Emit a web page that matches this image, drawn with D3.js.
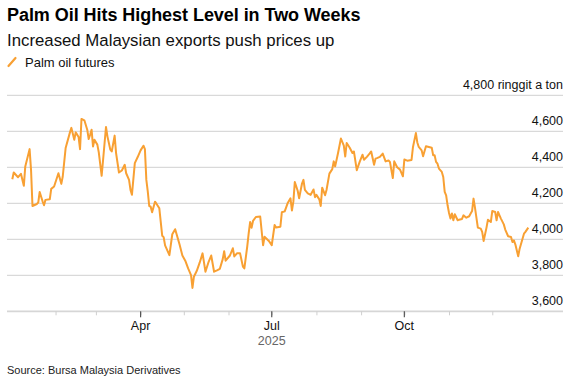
<!DOCTYPE html>
<html><head><meta charset="utf-8">
<script src="https://cdn.jsdelivr.net/npm/d3@7"></script>
<style>
html,body{margin:0;padding:0;background:#fff;}
svg{display:block;font-family:"Liberation Sans",Arial,sans-serif;}
</style></head>
<body><svg id="c" width="571" height="383"></svg>
<script>
const title = "Palm Oil Hits Highest Level in Two Weeks";
const subtitle = "Increased Malaysian exports push prices up";
const seriesName = "Palm oil futures";
const unitLabel = "ringgit a ton";
const source = "Source: Bursa Malaysia Derivatives";
const yearLabel = "2025";

const dates = ["2025-01-02","2025-01-03","2025-01-06","2025-01-08","2025-01-10","2025-01-11","2025-01-14","2025-01-15","2025-01-16","2025-01-19","2025-01-20","2025-01-21","2025-01-23","2025-01-24","2025-01-25","2025-01-28","2025-01-29","2025-01-31",
"2025-02-03","2025-02-05","2025-02-06","2025-02-08","2025-02-11","2025-02-12","2025-02-14","2025-02-15","2025-02-17","2025-02-18","2025-02-19","2025-02-21","2025-02-23","2025-02-24","2025-02-25","2025-02-26","2025-02-27","2025-02-28",
"2025-03-02","2025-03-03","2025-03-05","2025-03-06","2025-03-08","2025-03-09","2025-03-11","2025-03-12","2025-03-14","2025-03-15","2025-03-17","2025-03-19","2025-03-21","2025-03-22","2025-03-24","2025-03-25","2025-03-26","2025-03-28","2025-03-30",
"2025-04-01","2025-04-03","2025-04-04","2025-04-05","2025-04-06","2025-04-07","2025-04-08","2025-04-09","2025-04-11","2025-04-12","2025-04-14","2025-04-16","2025-04-17","2025-04-18","2025-04-21","2025-04-23","2025-04-25","2025-04-26","2025-04-28","2025-04-30",
"2025-05-02","2025-05-04","2025-05-06","2025-05-07","2025-05-08","2025-05-10","2025-05-12","2025-05-14","2025-05-16","2025-05-18","2025-05-20","2025-05-22","2025-05-24","2025-05-26","2025-05-28","2025-05-29","2025-05-30",
"2025-06-02","2025-06-04","2025-06-05","2025-06-07","2025-06-09","2025-06-11","2025-06-12","2025-06-14","2025-06-15","2025-06-16","2025-06-17","2025-06-18","2025-06-20","2025-06-23","2025-06-25","2025-06-26","2025-06-29",
"2025-07-01","2025-07-03","2025-07-04","2025-07-07","2025-07-08","2025-07-10","2025-07-12","2025-07-14","2025-07-15","2025-07-16","2025-07-17","2025-07-19","2025-07-20","2025-07-22","2025-07-23","2025-07-24","2025-07-26","2025-07-28","2025-07-30","2025-07-31",
"2025-08-01","2025-08-03","2025-08-04","2025-08-05","2025-08-07","2025-08-08","2025-08-10","2025-08-12","2025-08-13","2025-08-14","2025-08-16","2025-08-18","2025-08-20","2025-08-21","2025-08-22","2025-08-24","2025-08-26","2025-08-27","2025-08-29","2025-08-31",
"2025-09-02","2025-09-03","2025-09-05","2025-09-07","2025-09-08","2025-09-10","2025-09-11","2025-09-12","2025-09-14","2025-09-16","2025-09-18","2025-09-20","2025-09-21","2025-09-23","2025-09-24","2025-09-26","2025-09-28","2025-09-30",
"2025-10-01","2025-10-03","2025-10-06","2025-10-07","2025-10-09","2025-10-10","2025-10-11","2025-10-13","2025-10-14","2025-10-16","2025-10-18","2025-10-20","2025-10-21","2025-10-22","2025-10-23","2025-10-24","2025-10-25","2025-10-27","2025-10-28","2025-10-29","2025-10-30","2025-10-31",
"2025-11-01","2025-11-02","2025-11-03","2025-11-04","2025-11-05","2025-11-07","2025-11-08","2025-11-10","2025-11-11","2025-11-13","2025-11-15","2025-11-16","2025-11-17","2025-11-18","2025-11-19","2025-11-21","2025-11-23","2025-11-24","2025-11-25","2025-11-27","2025-11-28","2025-11-30",
"2025-12-01","2025-12-03","2025-12-04","2025-12-05","2025-12-06","2025-12-07","2025-12-09","2025-12-10","2025-12-12","2025-12-14","2025-12-15","2025-12-16","2025-12-17","2025-12-19","2025-12-20","2025-12-23","2025-12-24","2025-12-26"];

const prices = [4334,4371,4345,4364,4297,4405,4501,4386,4185,4196,4204,4263,4211,4189,4219,4222,4280,4293,
4367,4308,4349,4507,4594,4619,4553,4594,4568,4501,4669,4661,4609,4557,4581,4609,4516,4553,
4526,4483,4353,4442,4624,4572,4498,4488,4576,4479,4371,4382,4414,4367,4330,4274,4247,4423,4457,
4494,4520,4501,4330,4265,4185,4181,4150,4209,4198,4172,4020,4012,3966,3912,4028,4056,4028,3972,3910,
3881,3838,3801,3730,3792,3825,3870,3922,3820,3870,3910,3820,3827,3836,3890,3934,3881,
3910,3950,3905,3923,3923,3848,3838,3960,4033,4096,4064,4102,4124,4126,3967,4014,3991,
3967,4080,4066,4070,4150,4155,4200,4228,4160,4209,4318,4270,4228,4310,4330,4274,4255,4247,4277,4234,
4247,4222,4185,4287,4245,4274,4365,4390,4433,4405,4479,4560,4520,4460,4535,4510,4479,4488,4384,4430,
4470,4442,4458,4477,4488,4414,4448,4451,4458,4476,4433,4438,4430,4340,4433,4400,4387,4350,
4443,4437,4441,4513,4590,4538,4513,4494,4461,4517,4513,4509,4467,4467,4430,4420,4393,4374,4346,4263,4244,4189,
4146,4115,4143,4106,4139,4106,4109,4113,4133,4120,4128,4143,4157,4226,4176,4065,4059,4041,3991,4065,4109,4096,
4157,4152,4106,4152,4133,4115,4083,4054,4017,4013,3985,3994,3972,3906,3948,4031,4041,4065];

const yTicks = [3600,3800,4000,4200,4400,4600,4800];
const monthTicks = ["2025-02-01","2025-03-01","2025-04-01","2025-05-01","2025-06-01","2025-07-01","2025-08-01","2025-09-01","2025-10-01","2025-11-01","2025-12-01"];
const labelledMonths = ["2025-04-01","2025-07-01","2025-10-01"];

const parse = d3.utcParse("%Y-%m-%d");
const data = dates.map((d,i)=>({date:parse(d), value:prices[i]}));

const svg = d3.select("#c");
const left = 7, right = 563;
const x = d3.scaleUtc().domain(d3.extent(data,d=>d.date)).range([12.3, 528.3]);
const y = d3.scaleLinear().domain([3600,4800]).range([311.3, 95.3]);

// Title block
svg.append("text").attr("x",7).attr("y",21).attr("font-size",18).attr("font-weight","bold")
  .attr("letter-spacing","-0.05").attr("fill","#000").text(title);
svg.append("text").attr("x",7).attr("y",45.5).attr("font-size",16.8).attr("fill","#111").text(subtitle);
// legend
svg.append("line").attr("x1",8.5).attr("y1",66).attr("x2",15.5).attr("y2",58)
  .attr("stroke","#f8a033").attr("stroke-width",2.2).attr("stroke-linecap","round");
svg.append("text").attr("x",25).attr("y",67).attr("font-size",13).attr("fill","#111").text(seriesName);

// gridlines
const grid = svg.append("g");
yTicks.filter(v=>v>3600).forEach(v=>{
  grid.append("line").attr("x1",left).attr("x2",right).attr("y1",y(v)).attr("y2",y(v))
    .attr("stroke","#d9d9d9").attr("stroke-width",1.2);
});
// y labels
const fmt = d3.format(",");
yTicks.forEach(v=>{
  svg.append("text").attr("x",right).attr("y",y(v)-6).attr("text-anchor","end")
    .attr("font-size",12.5).attr("fill","#111")
    .text(v===4800 ? fmt(v)+" "+unitLabel : fmt(v));
});

// x axis
svg.append("line").attr("x1",left).attr("x2",right).attr("y1",y(3600)).attr("y2",y(3600))
  .attr("stroke","#d6d6d6").attr("stroke-width",1.8);
const xAxis = d3.axisBottom(x).tickValues(monthTicks.map(parse)).tickSize(4).tickFormat("");
const gx = svg.append("g").attr("transform",`translate(0,${y(3600)})`).call(xAxis);
gx.select(".domain").remove();
gx.selectAll(".tick line").attr("stroke","#cfcfcf").attr("stroke-width",1);
const majors = labelledMonths.map(parse);
majors.forEach(d=>{
  svg.append("line").attr("x1",x(d)).attr("x2",x(d)).attr("y1",y(3600)).attr("y2",y(3600)+6)
    .attr("stroke","#555").attr("stroke-width",1.2);
  svg.append("text").attr("x",x(d)).attr("y",329.5).attr("text-anchor","middle")
    .attr("font-size",12.5).attr("fill","#111").text(d3.utcFormat("%b")(d));
});
svg.append("text").attr("x",x(majors[1])).attr("y",345).attr("text-anchor","middle")
  .attr("font-size",12.5).attr("fill","#666").text(yearLabel);

// line
svg.append("path").datum(data)
  .attr("d", d3.line().x(d=>x(d.date)).y(d=>y(d.value)).curve(d3.curveLinear))
  .attr("fill","none").attr("stroke","#f8a033").attr("stroke-width",2)
  .attr("stroke-linejoin","round");

// source
svg.append("text").attr("x",7).attr("y",374).attr("font-size",11).attr("fill","#222").text(source);
</script></body></html>
